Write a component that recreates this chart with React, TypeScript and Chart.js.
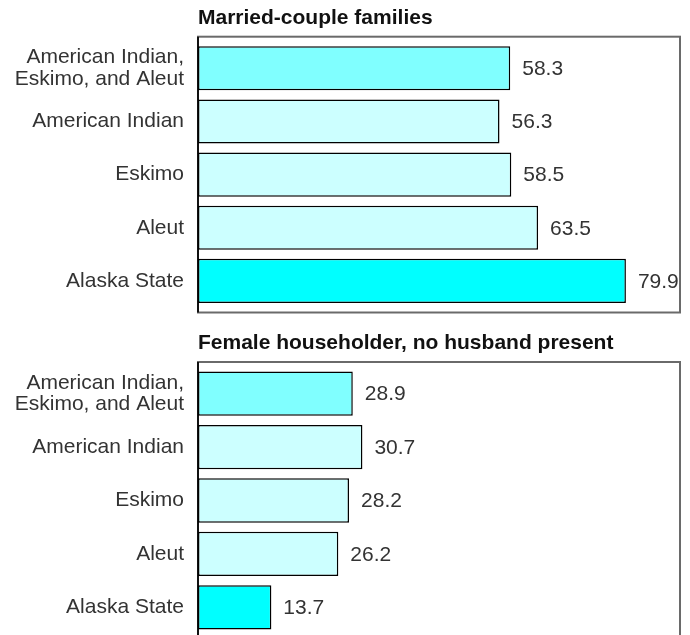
import React, { useEffect, useRef } from "react";
import { Chart, registerables } from "chart.js";

Chart.register(...registerables);

const categories: (string | string[])[] = [
  ["American Indian,", "Eskimo, and Aleut"],
  "American Indian",
  "Eskimo",
  "Aleut",
  "Alaska State",
];
const marriedValues = [58.3, 56.3, 58.5, 63.5, 79.9];
const femaleValues = [28.9, 30.7, 28.2, 26.2, 13.7];
const barColors = ["#80FFFF", "#CCFFFF", "#CCFFFF", "#CCFFFF", "#00FFFF"];
const titleMarried = "Married-couple families";
const titleFemale = "Female householder, no husband present";
const axisMax = 90;

const FONT = '"Liberation Sans", Arial, Helvetica, sans-serif';

const boxPlugin = {
  id: "boxPlugin",
  beforeDatasetsDraw(chart: any) {
    const { ctx, chartArea } = chart;
    const l = chartArea.left;
    const r = chartArea.right;
    const t = chartArea.top - 5;
    const b = chartArea.bottom + 5;
    ctx.save();
    ctx.strokeStyle = "#6a6a6a";
    ctx.lineWidth = 2;
    ctx.strokeRect(l, t, r - l, b - t);
    ctx.strokeStyle = "#111";
    ctx.lineWidth = 2;
    ctx.beginPath();
    ctx.moveTo(l, t);
    ctx.lineTo(l, b);
    ctx.stroke();
    ctx.restore();
  },
};

const valueLabelPlugin = {
  id: "valueLabelPlugin",
  afterDatasetsDraw(chart: any) {
    const { ctx } = chart;
    const meta = chart.getDatasetMeta(0);
    const data = chart.data.datasets[0].data as number[];
    ctx.save();
    ctx.font = `21px ${FONT}`;
    ctx.fillStyle = "#333";
    ctx.textAlign = "left";
    ctx.textBaseline = "middle";
    meta.data.forEach((bar: any, i: number) => {
      ctx.fillText(data[i].toFixed(1), bar.x + 12, bar.y + 1);
    });
    ctx.restore();
  },
};

function makeConfig(title: string, values: number[], titlePad: { top: number; bottom: number }, padBottom: number): any {
  return {
    type: "bar",
    data: {
      labels: categories,
      datasets: [
        {
          data: values,
          backgroundColor: barColors,
          borderColor: "#000",
          borderWidth: 1.5,
          borderSkipped: false,
          categoryPercentage: 1,
          barPercentage: 0.83,
        },
      ],
    },
    options: {
      indexAxis: "y",
      responsive: false,
      animation: false,
      devicePixelRatio: 1,
      layout: { padding: { left: 14, right: 10, top: 0, bottom: padBottom } },
      plugins: {
        legend: { display: false },
        tooltip: { enabled: false },
        title: {
          display: true,
          text: title,
          align: "start",
          fullSize: false,
          color: "#111",
          font: { family: FONT, size: 21, weight: "bold", lineHeight: 1.2 },
          padding: titlePad,
        },
      },
      scales: {
        x: {
          min: 0,
          max: axisMax,
          display: false,
          grid: { display: false },
        },
        y: {
          grid: { display: false, drawTicks: false },
          border: { display: false },
          ticks: {
            color: "#333",
            padding: 14,
            font: { family: FONT, size: 21, lineHeight: 1.03 },
          },
          afterFit(scale: any) {
            scale.width = 184;
            scale.paddingTop = 0;
            scale.paddingBottom = 0;
          },
        },
      },
    },
    plugins: [boxPlugin, valueLabelPlugin],
  };
}

function BarPanel(props: { title: string; values: number[]; top: number; height: number; titlePad: { top: number; bottom: number }; padBottom: number }) {
  const ref = useRef<HTMLCanvasElement | null>(null);
  useEffect(() => {
    if (!ref.current) return;
    const chart = new Chart(ref.current, makeConfig(props.title, props.values, props.titlePad, props.padBottom));
    return () => chart.destroy();
  }, []);
  return (
    <canvas
      ref={ref}
      width={690}
      height={props.height}
      style={{ position: "absolute", left: 0, top: props.top, width: 690, height: props.height, display: "block" }}
    />
  );
}

export default function App() {
  return (
    <div
      style={{
        position: "absolute",
        left: 0,
        top: 0,
        width: 690,
        height: 635,
        overflow: "hidden",
        background: "#fff",
      }}
    >
      <BarPanel title={titleMarried} values={marriedValues} top={0} height={320} titlePad={{ top: 6, bottom: 10.5 }} padBottom={12.5} />
      <BarPanel title={titleFemale} values={femaleValues} top={320} height={340} titlePad={{ top: 11, bottom: 10.8 }} padBottom={26} />
    </div>
  );
}
